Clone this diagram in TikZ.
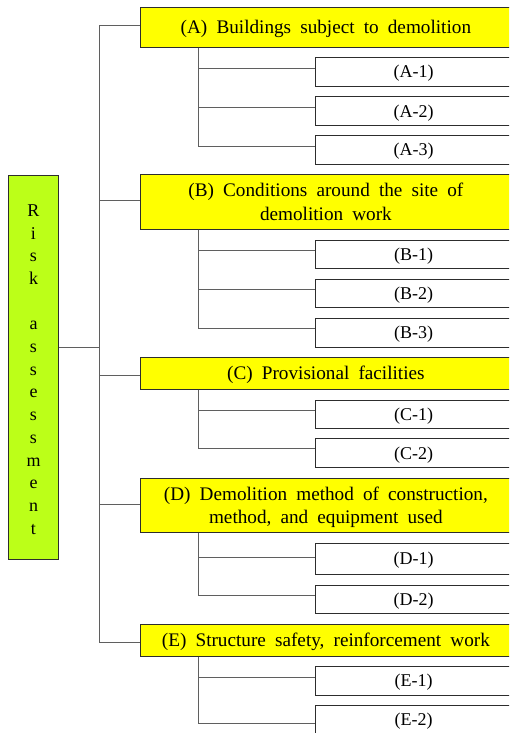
\documentclass[tikz,border=0pt]{standalone}
\usepackage{fontspec}
\setmainfont{Liberation Serif}[WordSpace=1.9]
\definecolor{rootgreen}{RGB}{188,255,24}
\definecolor{catyellow}{RGB}{255,255,0}
\definecolor{boxborder}{RGB}{45,45,45}
\definecolor{connline}{RGB}{95,95,95}
\newcommand{\lowtext}[2]{\raisebox{-#1}[\height][\depth]{\begin{tabular}{@{}c@{}}#2\end{tabular}}}
\begin{document}
\begin{tikzpicture}[x=1pt,y=-1pt,
  rootbox/.style={draw=boxborder, fill=rootgreen, line width=0.8pt, minimum width=50.4pt, minimum height=384.3pt, inner sep=0pt, font=\fontsize{18}{22.7}\selectfont},
  catbox/.style={draw=boxborder, fill=catyellow, line width=0.8pt, minimum width=371pt, anchor=west, inner sep=0pt, font=\fontsize{19.2}{23.3}\selectfont},
  childbox/.style={draw=boxborder, fill=white, line width=0.8pt, minimum width=196pt, anchor=west, inner sep=0pt, font=\fontsize{18}{22}\selectfont},
  conn/.style={draw=connline, line width=0.9pt}]
\useasboundingbox (0,0) rectangle (509,733);
\clip (0,0) rectangle (509,733);
\coordinate (trunk) at (99.5,0);
\coordinate (sub) at (198,0);

\node[rootbox] (root) at (33.5,367.2) {\lowtext{3.5pt}{R\\i\\s\\k\\[22.7pt]a\\s\\s\\e\\s\\s\\m\\e\\n\\t}};

\node[catbox, minimum height=40pt] (A) at (140,27.3) {\lowtext{2pt}{(A) Buildings subject to demolition}};
\node[childbox, minimum height=28.6pt] (A1) at (315.3,72) {\lowtext{1.5pt}{(A-1)}};
\node[childbox, minimum height=29pt] (A2) at (315.3,111.2) {\lowtext{1.5pt}{(A-2)}};
\node[childbox, minimum height=28.6pt] (A3) at (315.3,150) {\lowtext{1.5pt}{(A-3)}};

\node[catbox, minimum height=54.6pt] (B) at (140,202) {\lowtext{1.8pt}{(B) Conditions around the site of\\demolition work}};
\node[childbox, minimum height=28.7pt] (B1) at (315.3,254.3) {\lowtext{1.5pt}{(B-1)}};
\node[childbox, minimum height=28.4pt] (B2) at (315.3,293.5) {\lowtext{1.5pt}{(B-2)}};
\node[childbox, minimum height=28.7pt] (B3) at (315.3,332.7) {\lowtext{1.5pt}{(B-3)}};

\node[catbox, minimum height=32pt] (C) at (140,373.3) {\lowtext{2pt}{(C) Provisional facilities}};
\node[childbox, minimum height=28.7pt] (C1) at (315.3,414.3) {\lowtext{1.5pt}{(C-1)}};
\node[childbox, minimum height=29pt] (C2) at (315.3,453.2) {\lowtext{1.5pt}{(C-2)}};

\node[catbox, minimum height=54.2pt] (D) at (140,505.4) {\lowtext{1.8pt}{(D) Demolition method of construction,\\method, and equipment used}};
\node[childbox, minimum height=31.7pt] (D1) at (315.3,558.8) {\lowtext{1.5pt}{(D-1)}};
\node[childbox, minimum height=28.7pt] (D2) at (315.3,599.3) {\lowtext{1.5pt}{(D-2)}};

\node[catbox, minimum height=32.3pt] (E) at (140,640.2) {\lowtext{2pt}{(E) Structure safety, reinforcement work}};
\node[childbox, minimum height=28.6pt] (E1) at (315.3,681) {\lowtext{1.5pt}{(E-1)}};
\node[childbox, minimum height=28.6pt] (E2) at (315.3,720) {\lowtext{1.5pt}{(E-2)}};

% main trunk
\draw[conn] ([yshift=2.3pt]A.west) -| ([yshift=-2.1pt]E.west -| trunk) -- ([yshift=-2.1pt]E.west);
\draw[conn] ([yshift=2pt]B.west) -- ([yshift=2pt]B.west -| trunk);
\draw[conn] ([yshift=-1.7pt]C.west) -- ([yshift=-1.7pt]C.west -| trunk);
\draw[conn] ([yshift=1.4pt]D.west) -- ([yshift=1.4pt]D.west -| trunk);
\draw[conn] ([yshift=20.2pt]root.east) -- ([yshift=20.2pt]root.east -| trunk);

% sub branches
\draw[conn] (A.south -| sub) |- ([yshift=4pt]A1.west);
\draw[conn] (A.south -| sub) |- ([yshift=4.2pt]A2.west);
\draw[conn] (A.south -| sub) |- ([yshift=4pt]A3.west);
\draw[conn] (B.south -| sub) |- ([yshift=4.3pt]B1.west);
\draw[conn] (B.south -| sub) |- ([yshift=4.2pt]B2.west);
\draw[conn] (B.south -| sub) |- ([yshift=4.7pt]B3.west);
\draw[conn] (C.south -| sub) |- ([yshift=4pt]C1.west);
\draw[conn] (C.south -| sub) |- ([yshift=4.5pt]C2.west);
\draw[conn] (D.south -| sub) |- ([yshift=1.5pt]D1.west);
\draw[conn] (D.south -| sub) |- ([yshift=4pt]D2.west);
\draw[conn] (E.south -| sub) |- ([yshift=4pt]E1.west);
\draw[conn] (E.south -| sub) |- ([yshift=-3.3pt]E2.west);
\end{tikzpicture}
\end{document}
